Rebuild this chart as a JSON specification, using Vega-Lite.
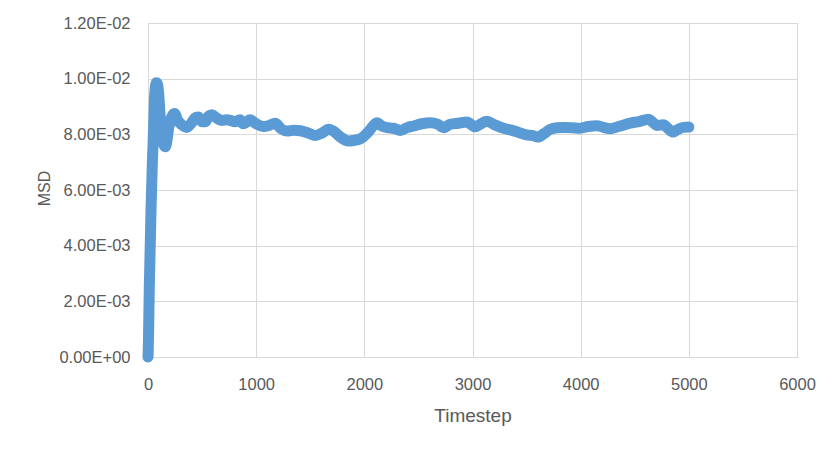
{
  "$schema": "https://vega.github.io/schema/vega-lite/v6.json",
  "width": 649,
  "height": 334,
  "autosize": "none",
  "padding": {"left": 148, "top": 23, "right": 42, "bottom": 95},
  "background": "#ffffff",
  "config": {
    "view": {"stroke": "#D9D9D9", "strokeWidth": 1},
    "font": "Liberation Sans"
  },
  "data": {
    "values": [
      {"t": 0, "v": 0.0},
      {"t": 2, "v": 0.0002},
      {"t": 5, "v": 0.0008},
      {"t": 8, "v": 0.0015},
      {"t": 12, "v": 0.0025},
      {"t": 16, "v": 0.0032},
      {"t": 20, "v": 0.0039},
      {"t": 24, "v": 0.0046},
      {"t": 28, "v": 0.0053},
      {"t": 33, "v": 0.0060},
      {"t": 38, "v": 0.0067},
      {"t": 43, "v": 0.0073},
      {"t": 48, "v": 0.0078},
      {"t": 53, "v": 0.0084},
      {"t": 60, "v": 0.0093},
      {"t": 68, "v": 0.0097},
      {"t": 78, "v": 0.00985},
      {"t": 88, "v": 0.0098},
      {"t": 98, "v": 0.0095},
      {"t": 110, "v": 0.0088},
      {"t": 125, "v": 0.0081},
      {"t": 140, "v": 0.0077},
      {"t": 160, "v": 0.00755},
      {"t": 172, "v": 0.0077},
      {"t": 190, "v": 0.0082},
      {"t": 215, "v": 0.0086},
      {"t": 245, "v": 0.00875},
      {"t": 275, "v": 0.0085},
      {"t": 310, "v": 0.00835},
      {"t": 357, "v": 0.00825},
      {"t": 400, "v": 0.0084},
      {"t": 440, "v": 0.0086},
      {"t": 465, "v": 0.00862},
      {"t": 500, "v": 0.00845},
      {"t": 530, "v": 0.00845},
      {"t": 560, "v": 0.00865},
      {"t": 590, "v": 0.0087},
      {"t": 630, "v": 0.0086},
      {"t": 680, "v": 0.0085},
      {"t": 727, "v": 0.00852},
      {"t": 760, "v": 0.0085},
      {"t": 800, "v": 0.00845},
      {"t": 850, "v": 0.00852},
      {"t": 880, "v": 0.00838},
      {"t": 915, "v": 0.00845},
      {"t": 942, "v": 0.00852},
      {"t": 1000, "v": 0.00838},
      {"t": 1065, "v": 0.00828},
      {"t": 1120, "v": 0.00832},
      {"t": 1176, "v": 0.0084},
      {"t": 1230, "v": 0.0082},
      {"t": 1285, "v": 0.00812},
      {"t": 1350, "v": 0.00815},
      {"t": 1408, "v": 0.00813},
      {"t": 1480, "v": 0.00805},
      {"t": 1546, "v": 0.00796},
      {"t": 1610, "v": 0.00805},
      {"t": 1669, "v": 0.00818},
      {"t": 1720, "v": 0.0081},
      {"t": 1780, "v": 0.0079},
      {"t": 1854, "v": 0.00776},
      {"t": 1900, "v": 0.00778},
      {"t": 1963, "v": 0.00784},
      {"t": 2040, "v": 0.0081},
      {"t": 2117, "v": 0.00842},
      {"t": 2160, "v": 0.0083},
      {"t": 2209, "v": 0.00824},
      {"t": 2270, "v": 0.00822},
      {"t": 2332, "v": 0.00814},
      {"t": 2400, "v": 0.00825},
      {"t": 2456, "v": 0.0083},
      {"t": 2530, "v": 0.00838},
      {"t": 2609, "v": 0.00842},
      {"t": 2680, "v": 0.00836},
      {"t": 2733, "v": 0.00824},
      {"t": 2794, "v": 0.00836},
      {"t": 2870, "v": 0.0084},
      {"t": 2948, "v": 0.00844},
      {"t": 3025, "v": 0.00827},
      {"t": 3080, "v": 0.00838},
      {"t": 3133, "v": 0.00847},
      {"t": 3200, "v": 0.00835},
      {"t": 3287, "v": 0.00822},
      {"t": 3360, "v": 0.00815},
      {"t": 3441, "v": 0.00805},
      {"t": 3500, "v": 0.00798},
      {"t": 3564, "v": 0.00795},
      {"t": 3600, "v": 0.0079},
      {"t": 3660, "v": 0.00802},
      {"t": 3718, "v": 0.00818},
      {"t": 3780, "v": 0.00824},
      {"t": 3841, "v": 0.00825},
      {"t": 3920, "v": 0.00824},
      {"t": 3995, "v": 0.00822},
      {"t": 4070, "v": 0.00828},
      {"t": 4149, "v": 0.00831},
      {"t": 4210, "v": 0.00825},
      {"t": 4272, "v": 0.0082},
      {"t": 4350, "v": 0.00828},
      {"t": 4457, "v": 0.0084},
      {"t": 4540, "v": 0.00846},
      {"t": 4626, "v": 0.00854},
      {"t": 4670, "v": 0.00842},
      {"t": 4703, "v": 0.00832},
      {"t": 4765, "v": 0.00834},
      {"t": 4810, "v": 0.0082},
      {"t": 4857, "v": 0.00808},
      {"t": 4900, "v": 0.00818},
      {"t": 4950, "v": 0.00825},
      {"t": 5000, "v": 0.00826}
    ]
  },
  "mark": {
    "type": "line",
    "color": "#5B9BD5",
    "strokeWidth": 11,
    "strokeCap": "round",
    "strokeJoin": "round",
    "interpolate": "monotone"
  },
  "encoding": {
    "x": {
      "field": "t",
      "type": "quantitative",
      "scale": {"domain": [0, 6000], "nice": false, "zero": false},
      "axis": {
        "title": "Timestep",
        "values": [0, 1000, 2000, 3000, 4000, 5000, 6000],
        "format": "d",
        "ticks": false,
        "tickSize": 0,
        "grid": true,
        "gridColor": "#D9D9D9",
        "gridWidth": 1,
        "domainColor": "#D9D9D9",
        "domainWidth": 1,
        "labelFont": "Liberation Sans",
        "labelFontSize": 16.5,
        "labelColor": "#595959",
        "labelBaseline": "alphabetic",
        "labelPadding": 32,
        "labelFlush": false,
        "labelOverlap": false,
        "titleFont": "Liberation Sans",
        "titleFontSize": 19,
        "titleFontWeight": "normal",
        "titleColor": "#595959",
        "titleBaseline": "alphabetic",
        "titleAnchor": "middle",
        "titleY": 64
      }
    },
    "y": {
      "field": "v",
      "type": "quantitative",
      "scale": {"domain": [0, 0.012], "nice": false, "zero": false},
      "axis": {
        "title": "MSD",
        "values": [0, 0.002, 0.004, 0.006, 0.008, 0.01, 0.012],
        "labelExpr": "datum.value == 0 ? '0.00E+00' : (datum.value >= 0.0095 ? format(datum.value * 100, '.2f') + 'E-02' : format(datum.value * 1000, '.2f') + 'E-03')",
        "ticks": false,
        "tickSize": 0,
        "grid": true,
        "gridColor": "#D9D9D9",
        "gridWidth": 1,
        "domainColor": "#D9D9D9",
        "domainWidth": 1,
        "labelFont": "Liberation Sans",
        "labelFontSize": 16.5,
        "labelColor": "#595959",
        "labelPadding": 18,
        "labelFlush": false,
        "labelOverlap": false,
        "titleFont": "Liberation Sans",
        "titleFontSize": 16,
        "titleFontWeight": "normal",
        "titleColor": "#595959",
        "titleAngle": 270,
        "titleBaseline": "alphabetic",
        "titleAlign": "center",
        "titleX": -99,
        "titleY": 165
      }
    }
  }
}
